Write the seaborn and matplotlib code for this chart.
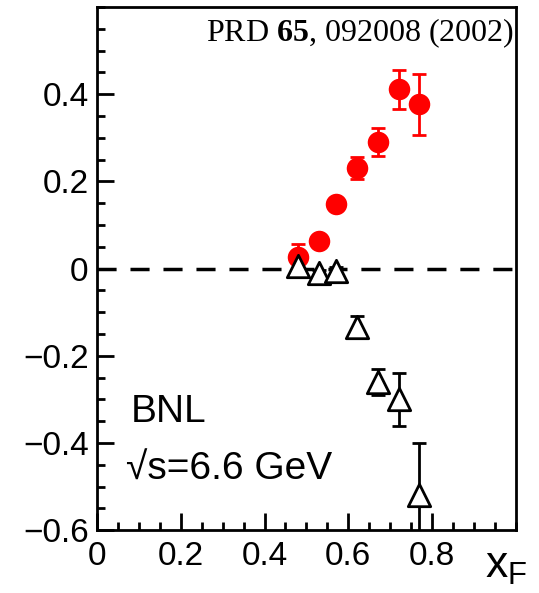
import numpy as np
import pandas as pd
import seaborn as sns
import matplotlib.pyplot as plt
from matplotlib.ticker import MultipleLocator, FixedLocator

# BNL single-spin asymmetry vs x_F (PRD 65, 092008)
xf_pos = [0.48, 0.53, 0.57, 0.62, 0.67, 0.72, 0.77]
an_pos = [0.027, 0.064, 0.148, 0.230, 0.291, 0.411, 0.377]
err_pos = [0.030, 0.010, 0.005, 0.025, 0.032, 0.045, 0.070]

xf_neg = [0.48, 0.53, 0.57, 0.62, 0.67, 0.72, 0.77]
an_neg = [0.005, -0.010, -0.005, -0.134, -0.260, -0.300, -0.520]
err_neg = [0.010, 0.008, 0.008, 0.025, 0.030, 0.060, 0.120]

x_ticks = [0, 0.2, 0.4, 0.6, 0.8]
y_ticks = [-0.6, -0.4, -0.2, 0, 0.2, 0.4]

sns.set_style("ticks")
plt.rcParams['font.family'] = ['Liberation Sans', 'DejaVu Sans']
plt.rcParams['mathtext.default'] = 'regular'
plt.rcParams['mathtext.fontset'] = 'custom'
plt.rcParams['mathtext.bf'] = 'Liberation Serif:bold'
for k in ['text.color', 'axes.labelcolor', 'xtick.color', 'ytick.color', 'axes.edgecolor']:
    plt.rcParams[k] = 'black'

fig = plt.figure(figsize=(5.39, 5.93), dpi=100)
ax = fig.add_axes([0.18, 0.106, 0.777, 0.882])

df_pos = pd.DataFrame({"xf": xf_pos, "an": an_pos})
df_neg = pd.DataFrame({"xf": xf_neg, "an": an_neg})

ax.axhline(0, color='black', lw=2.5, ls=(0, (5.5, 4)), zorder=1)

ax.errorbar(xf_pos, an_pos, yerr=err_pos, fmt='none', ecolor='red',
            elinewidth=2, capsize=5, capthick=2, zorder=2)
sns.scatterplot(data=df_pos, x="xf", y="an", ax=ax, color='red', s=240,
                marker='o', edgecolor='red', linewidth=0, zorder=3)

ax.errorbar(xf_neg, an_neg, yerr=err_neg, fmt='none', ecolor='black',
            elinewidth=2, capsize=5, capthick=2, zorder=2)
sns.scatterplot(data=df_neg, x="xf", y="an", ax=ax, marker='^', s=260,
                facecolor='white', edgecolor='black', linewidth=2, zorder=4)

ax.set_xlim(0, 1)
ax.set_ylim(-0.6, 0.6)
ax.xaxis.set_major_locator(FixedLocator(x_ticks))
ax.yaxis.set_major_locator(FixedLocator(y_ticks))
ax.xaxis.set_minor_locator(MultipleLocator(0.05))
ax.yaxis.set_minor_locator(MultipleLocator(0.05))
ax.set_xticklabels([f"{v:g}" for v in x_ticks])
ax.set_yticklabels([f"{v:g}".replace("-", "\u2212") for v in y_ticks])
ax.tick_params(which='both', direction='in', width=2, labelsize=24,
               top=False, right=False)
ax.tick_params(which='major', length=12)
ax.tick_params(which='minor', length=6)
ax.tick_params(axis='y', pad=6)
ax.tick_params(axis='x', pad=8)
for sp in ax.spines.values():
    sp.set_linewidth(2)
ax.set_xlabel("")
ax.set_ylabel("")

ax.text(0.997, 0.95, r"PRD $\mathbf{65}$, 092008 (2002)", transform=ax.transAxes,
        ha='right', va='center', fontsize=23, family=['Liberation Serif'])
ax.text(0.08, 0.225, "BNL", transform=ax.transAxes, fontsize=28,
        ha='left', va='center')
ax.text(0.07, 0.115, "\u221as=6.6 GeV", transform=ax.transAxes, fontsize=28,
        ha='left', va='center', family=['Liberation Sans', 'DejaVu Sans'])
fig.text(0.9, 0.045, r"x$_F$", fontsize=32, ha='left', va='center')

fig.savefig("out.png", dpi=100)
